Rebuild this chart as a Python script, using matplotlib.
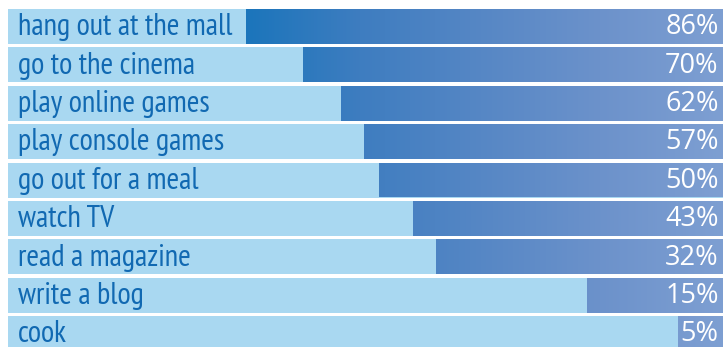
import numpy as np
import matplotlib
matplotlib.use("Agg")
import matplotlib.pyplot as plt

activities = ["hang out at the mall", "go to the cinema", "play online games",
              "play console games", "go out for a meal", "watch TV",
              "read a magazine", "write a blog", "cook"]
percents = [86, 70, 62, 57, 50, 43, 32, 15, 5]
# displayed length of each dark bar, as % of the track width
bar_lengths = [66.7, 58.7, 53.4, 50.2, 48.1, 43.4, 40.1, 19.0, 6.3]

track_color = "#a9d8f1"
label_color = "#1169b2"

# horizontal gradient stops (track units -> RGB)
grad_pos = [33.3, 49.2, 63.2, 82.8, 100.0]
grad_rgb = np.array([[27, 117, 187], [62, 125, 192], [82, 133, 196],
                     [108, 146, 203], [126, 159, 210]]) / 255.0

fig = plt.figure(figsize=(7.23, 3.47), dpi=100)
ax = fig.add_axes([8 / 723, 0, 715 / 723, 1])
ax.set_xlim(0, 100)
n = len(activities)
pitch = 38.375
ax.set_ylim(8 + (347 - 333.5) / pitch, -26.5 / pitch)
ax.axis("off")

h = 35 / pitch
y = np.arange(n)
ax.barh(y, [100] * n, height=h, left=0, color=track_color, zorder=1)

xs = np.linspace(0, 100, 1000)
grad = np.stack([np.interp(xs, grad_pos, grad_rgb[:, c]) for c in range(3)], axis=-1)
grad = grad[np.newaxis, :, :]

bars = ax.barh(y, bar_lengths, height=h, left=[100 - L for L in bar_lengths],
               color="none", zorder=2)
ylim = ax.get_ylim()
for b in bars:
    im = ax.imshow(grad, extent=[0, 100, ylim[0], ylim[1]], aspect="auto",
                   interpolation="bilinear", zorder=2)
    im.set_clip_path(b)
ax.set_xlim(0, 100)
ax.set_ylim(*ylim)

label_font = ["PT Sans Narrow", "Fira Sans Condensed", "DejaVu Sans"]
pct_font = ["Open Sans", "DejaVu Sans"]
for i, (name, p) in enumerate(zip(activities, percents)):
    ax.text(1.4, i + 0.02, name, ha="left", va="center", color=label_color,
            fontsize=22, family=label_font, zorder=3)
    ax.text(99.4, i + 0.02, f"{p}%", ha="right", va="center", color="white",
            fontsize=19.5, family=pct_font, zorder=3)

fig.savefig("out.png", dpi=100)
